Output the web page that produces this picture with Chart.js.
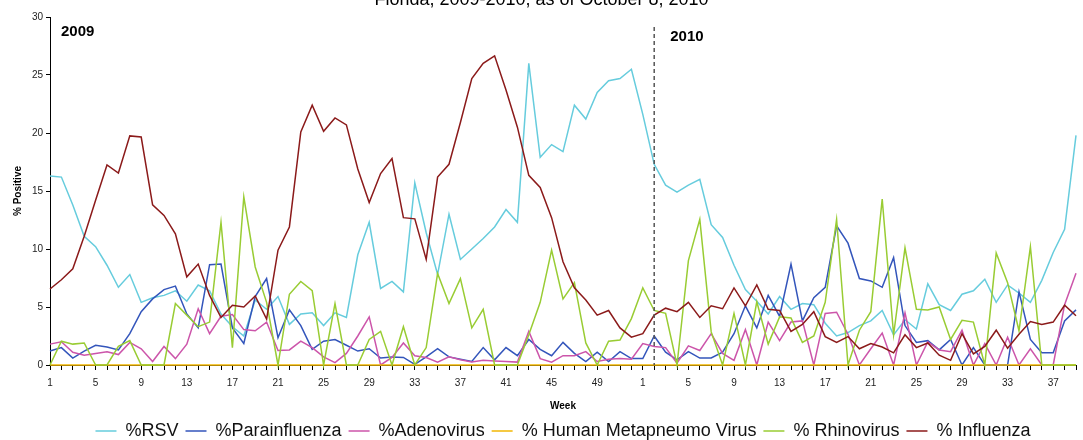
<!DOCTYPE html>
<html>
<head>
<meta charset="utf-8">
<script src="https://cdn.jsdelivr.net/npm/chart.js@4.4.1/dist/chart.umd.min.js"></script>
<style>
  html, body { margin: 0; padding: 0; background: #fff; }
  #wrap { position: relative; width: 1083px; height: 440px; }
</style>
</head>
<body>
<div id="wrap"><canvas id="labChart"></canvas></div>
<script>
// Week numbers: 2009 weeks 1-52, then 2010 weeks 1-39
const weeks = [
  1, 2, 3, 4, 5, 6, 7, 8, 9, 10, 11, 12, 13,
  14, 15, 16, 17, 18, 19, 20, 21, 22, 23, 24, 25, 26,
  27, 28, 29, 30, 31, 32, 33, 34, 35, 36, 37, 38, 39,
  40, 41, 42, 43, 44, 45, 46, 47, 48, 49, 50, 51, 52,
  1, 2, 3, 4, 5, 6, 7, 8, 9, 10, 11, 12, 13,
  14, 15, 16, 17, 18, 19, 20, 21, 22, 23, 24, 25, 26,
  27, 28, 29, 30, 31, 32, 33, 34, 35, 36, 37, 38, 39
];

const rsv = [
  16.3, 16.2, 13.8, 11.1, 10.2, 8.6, 6.7, 7.8, 5.4, 5.8, 6.0, 6.4, 5.5,
  6.9, 6.4, 4.4, 3.3, 2.5, 5.6, 4.8, 5.9, 3.5, 4.4, 4.5, 3.4, 4.5,
  4.1, 9.5, 12.3, 6.6, 7.2, 6.3, 15.7, 11.4, 7.8, 13.0, 9.1, 10.0, 10.9,
  11.9, 13.4, 12.3, 26.0, 17.9, 19.0, 18.4, 22.4, 21.2, 23.5, 24.5, 24.7, 25.5,
  21.6, 17.3, 15.5, 14.9, 15.5, 16.0, 12.1, 11.0, 8.6, 6.5, 5.5, 4.4, 5.9,
  4.8, 5.3, 5.2, 3.6, 2.5, 2.8, 3.4, 3.8, 4.7, 2.6, 3.9, 3.1, 7.0,
  5.2, 4.7, 6.1, 6.4, 7.4, 5.4, 6.9, 6.2, 5.4, 7.3, 9.7, 11.7, 19.8
];

const parainfluenza = [
  1.2, 1.5, 0.6, 1.2, 1.7, 1.55, 1.3, 2.7, 4.6, 5.7, 6.5, 6.8, 4.4,
  3.2, 8.65, 8.7, 3.2, 1.85, 5.9, 7.45, 2.35, 4.75, 3.4, 1.35, 2.05, 2.2,
  1.7, 1.2, 1.4, 0.6, 0.7, 0.65, 0.05, 0.7, 1.4, 0.7, 0.5, 0.3, 1.5,
  0.45, 1.5, 0.8, 2.2, 1.35, 0.8, 1.95, 1.0, 0.3, 1.1, 0.3, 1.15, 0.55,
  0.55, 2.5, 1.1, 0.45, 1.15, 0.6, 0.6, 1.1, 2.7, 5.1, 3.2, 6.0, 4.2,
  8.7, 3.8, 5.8, 6.7, 12.0, 10.5, 7.45, 7.25, 6.7, 9.25, 3.4, 1.95, 2.1,
  1.3, 2.2, 0, 1.5, 0, 0, 0, 6.3, 2.2, 1.05, 1.05, 3.8, 4.75
];

const adenovirus = [
  1.8, 2.0, 1.1, 0.85, 1.0, 1.15, 0.9, 1.95, 1.4, 0.3, 1.6, 0.55, 1.8,
  4.85, 2.7, 4.2, 4.35, 3.05, 2.95, 3.7, 1.25, 1.3, 2.05, 1.5, 0.7, 0.2,
  1.0, 2.5, 4.15, 0, 0.65, 1.9, 0.8, 0.65, 0.25, 0.7, 0.45, 0.25, 0.4,
  0.35, 0.3, 0.25, 2.9, 0.55, 0.25, 0.8, 0.8, 1.15, 0.3, 0.5, 0.55, 0.5,
  1.85, 1.6, 1.5, 0.15, 1.65, 1.25, 2.7, 1.0, 0.4, 3.05, 0, 3.7, 2.1,
  3.7, 3.8, 0, 4.45, 4.55, 2.65, 0, 1.4, 2.75, 0, 4.5, 0, 2.0,
  1.3, 1.15, 3.0, 0, 1.85, 0, 2.4, 0, 1.4, 0, 0, 5.2, 7.9
];

const metapneumo = [
  0, 0, 0, 0, 0, 0, 0, 0, 0, 0, 0, 0, 0,
  0, 0, 0, 0, 0, 0, 0, 0, 0, 0, 0, 0, 0,
  0, 0, 0, 0, 0, 0, 0, 0, 0, 0, 0, 0, 0,
  0, 0, 0, 0, 0, 0, 0, 0, 0, 0, 0, 0, 0,
  0, 0, 0, 0, 0, 0, 0, 0, 0, 0, 0, 0, 0,
  0, 0, 0, 0, 0, 0, 0, 0, 0, 0, 0, 0, 0,
  0, 0, 0, 0, 0, 0, 0, 0, 0, 0, 0, 0, 0
];

const rhinovirus = [
  0, 2.05, 1.8, 1.9, 0, 0, 1.6, 2.1, 0, 0, 0, 5.3, 4.3,
  3.3, 3.7, 12.3, 1.5, 14.5, 8.45, 5.4, 0, 6.1, 7.2, 6.4, 0, 5.3,
  0, 0, 2.2, 2.9, 0, 3.3, 0, 1.5, 7.9, 5.3, 7.45, 3.2, 4.8,
  0, 0, 0, 2.6, 5.4, 9.9, 5.7, 7.1, 1.9, 0, 2.05, 2.15, 4.0,
  6.65, 4.7, 4.45, 0, 9.0, 12.55, 2.85, 0, 4.45, 0, 5.45, 1.8, 4.15,
  4.05, 1.95, 2.5, 5.4, 12.55, 0, 3.0, 4.6, 14.3, 2.6, 10.1, 4.8, 4.75,
  5.0, 2.2, 3.85, 3.7, 0, 9.65, 7.1, 2.95, 10.2, 0, 0, 0, 0
];

const influenza = [
  6.55, 7.35, 8.3, 11.1, 14.2, 17.25, 16.55, 19.75, 19.65, 13.8, 12.9, 11.3, 7.6,
  8.7, 6.0, 4.1, 5.15, 5.0, 5.95, 3.95, 9.9, 11.9, 20.1, 22.4, 20.15, 21.3,
  20.7, 16.9, 14.0, 16.5, 17.8, 12.7, 12.6, 9.1, 16.2, 17.3, 20.9, 24.7, 26.0,
  26.65, 23.7, 20.5, 16.35, 15.3, 12.7, 8.9, 6.65, 5.6, 4.3, 4.7, 3.2, 2.4,
  2.7, 4.3, 4.9, 4.6, 5.4, 4.1, 5.1, 4.85, 6.65, 5.1, 6.9, 4.8, 4.7,
  2.9, 3.5, 4.6, 2.45, 1.95, 2.45, 1.4, 1.85, 1.55, 1.05, 2.6, 1.5, 1.9,
  0.85, 0.4, 2.7, 0.95, 1.6, 3.0, 1.45, 2.65, 3.75, 3.5, 3.7, 5.15, 4.25
];

const seriesNames = ["%RSV", "%Parainfluenza", "%Adenovirus", "% Human Metapneumo Virus", "% Rhinovirus", "% Influenza"];
const seriesColors = ["#66CCDD", "#3355BB", "#CC55AA", "#F2B705", "#99CC33", "#8B1A1A"];
const yearBreakIndex = 53;
const titleText = "Florida, 2009-2010, as of October 8, 2010";

const FONT = "'Liberation Sans', Arial, sans-serif";
Chart.defaults.font.family = FONT;
Chart.defaults.color = "#222";

// Year labels, 2010 divider and the clipped title line
const yearMarks = {
  id: "yearMarks",
  afterDatasetsDraw(chart) {
    const { ctx, chartArea, scales } = chart;
    const xBreak = scales.x.getPixelForValue(yearBreakIndex);
    ctx.save();
    ctx.strokeStyle = "#555";
    ctx.lineWidth = 1.5;
    ctx.setLineDash([4, 3]);
    ctx.beginPath();
    ctx.moveTo(xBreak, chartArea.top + 10);
    ctx.lineTo(xBreak, chartArea.bottom);
    ctx.stroke();
    ctx.setLineDash([]);

    ctx.fillStyle = "#000";
    ctx.font = "bold 15px " + FONT;
    ctx.textBaseline = "alphabetic";
    ctx.fillText("2009", chartArea.left + 11, chartArea.top + 19);
    ctx.fillText("2010", xBreak + 16, chartArea.top + 24);

    ctx.font = "18px " + FONT;
    ctx.textAlign = "center";
    ctx.fillText(titleText, chart.width / 2, 5);
    ctx.restore();
  }
};

const allSeries = [rsv, parainfluenza, adenovirus, metapneumo, rhinovirus, influenza];

new Chart(document.getElementById("labChart"), {
  type: "line",
  data: {
    labels: weeks,
    datasets: allSeries.map((values, i) => ({
      label: seriesNames[i],
      data: values,
      borderColor: seriesColors[i],
      backgroundColor: seriesColors[i],
      borderWidth: 1.5,
      pointRadius: 0,
      tension: 0,
      fill: false,
      clip: false,
      order: allSeries.length - i, // later series on top, like the source
    })),
  },
  options: {
    responsive: true,
    maintainAspectRatio: false,
    animation: false,
    layout: {
      padding: { top: 17, right: 6, left: 0, bottom: 0 },
    },
    plugins: {
      tooltip: { enabled: false },
      legend: {
        position: "bottom",
        fullSize: false,
        maxHeight: 25,
        labels: {
          usePointStyle: true,
          pointStyle: "line",
          pointStyleWidth: 21,
          boxHeight: 18,
          padding: 7,
          color: "#111",
          font: { size: 18 },
          sort: (a, b) => a.datasetIndex - b.datasetIndex,
        },
      },
    },
    scales: {
      x: {
        ticks: {
          autoSkip: false,
          maxRotation: 0,
          padding: 7,
          color: "#222",
          font: { size: 10 },
          callback: function (value, index) {
            return index % 4 === 0 ? this.getLabelForValue(value) : "";
          },
        },
        grid: { drawOnChartArea: false, tickLength: 5, color: "#000" },
        border: { color: "#000" },
        title: {
          display: true,
          text: "Week",
          color: "#000",
          font: { size: 10, weight: "bold" },
          padding: { top: 4, bottom: 3 },
        },
      },
      y: {
        min: 0,
        max: 30,
        ticks: { stepSize: 5, padding: 3, color: "#222", font: { size: 10 } },
        grid: { drawOnChartArea: false, tickLength: 4, color: "#000" },
        border: { color: "#000" },
        title: {
          display: true,
          text: "% Positive",
          color: "#000",
          font: { size: 10, weight: "bold" },
          padding: { top: 12, bottom: 0 },
        },
        afterFit(scale) {
          scale.width = 50;
        },
      },
    },
  },
  plugins: [yearMarks],
});
</script>
</body>
</html>
